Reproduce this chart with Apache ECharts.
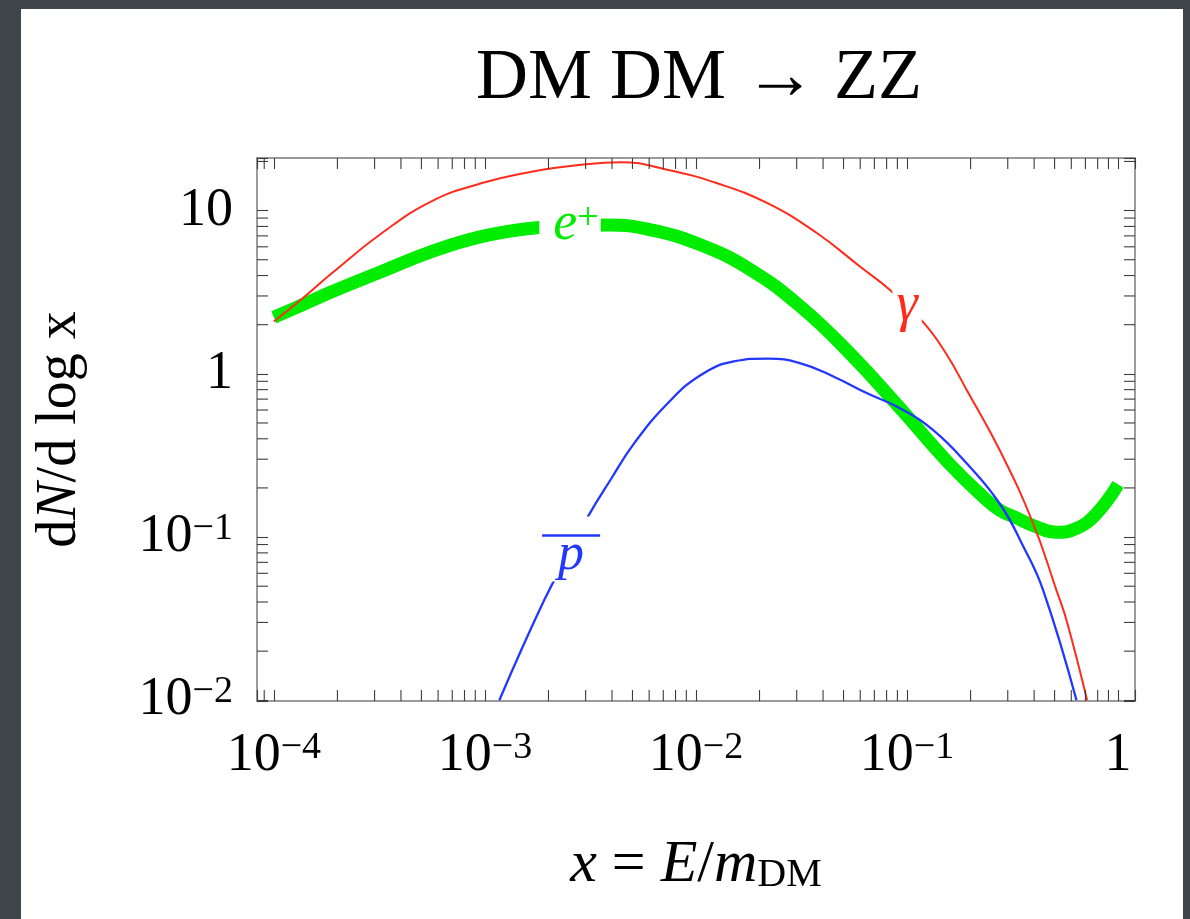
<!DOCTYPE html>
<html>
<head>
<meta charset="utf-8">
<script src="https://cdn.jsdelivr.net/npm/echarts@6/dist/echarts.min.js"></script>
<style>
  html, body { margin: 0; padding: 0; width: 1190px; height: 919px; overflow: hidden; background: #3f464a; }
  #panel { position: absolute; left: 21px; top: 9px; width: 1162px; height: 910px; background: #ffffff; }
  #chart { position: absolute; left: 0; top: 0; width: 1190px; height: 919px; }
</style>
</head>
<body>
<div id="panel"></div>
<div id="chart"></div>
<script>
// Energy spectra dN/d log x of the final states of DM DM -> ZZ, x = E / m_DM.

// photons (gamma)
const gammaX = [1.0e-4, 1.36e-4, 1.88e-4, 3.24e-4, 5.58e-4, 9.6e-4, 1.66e-3, 2.86e-3, 4.4e-3, 7.3e-3,
                1.26e-2, 2.18e-2, 3.75e-2, 6.0e-2, 8.3e-2, 0.120, 0.152, 0.192, 0.275,
                0.396, 0.511, 0.570, 0.713];
const gammaY = [2.09, 2.88, 4.13, 7.26, 11.4, 14.7, 17.3, 19.1, 19.8, 17.8,
                14.7, 11.1, 7.26, 4.53, 3.26, 2.05, 1.35, 0.794, 0.340,
                0.121, 0.047, 0.0308, 0.0100];

// positrons (e+)
const positronX = [1.0e-4, 1.36e-4, 1.88e-4, 3.24e-4, 5.58e-4, 9.6e-4, 1.66e-3, 2.56e-3, 3.83e-3, 6.11e-3,
                   1.05e-2, 1.82e-2, 3.13e-2, 5.37e-2, 9.29e-2, 0.160, 0.230, 0.275, 0.330, 0.394,
                   0.511, 0.635, 0.789, 1.0];
const positronY = [2.22, 2.64, 3.18, 4.23, 5.6, 6.92, 7.8, 8.06, 8.17, 7.62,
                   6.17, 4.33, 2.58, 1.33, 0.614, 0.278, 0.176, 0.146, 0.131, 0.118,
                   0.107, 0.113, 0.139, 0.21];

// antiprotons (p-bar)
const antiprotonX = [1.17e-3, 1.91e-3, 2.56e-3, 3.07e-3, 3.95e-3, 5.10e-3, 7.33e-3, 1.05e-2, 1.51e-2, 2.18e-2,
                     3.13e-2, 4.50e-2, 6.47e-2, 9.29e-2, 0.133, 0.192, 0.275, 0.356, 0.442, 0.635];
const antiprotonY = [0.0100, 0.0411, 0.0844, 0.133, 0.226, 0.376, 0.658, 0.98, 1.19, 1.24,
                     1.16, 0.96, 0.76, 0.614, 0.452, 0.282, 0.160, 0.0873, 0.047, 0.0100];

// axis decorations
const xTickLabels = ['10{s|\u22124}', '10{s|\u22123}', '10{s|\u22122}', '10{s|\u22121}', '1']; // 1e-4 .. 1
const yTickLabels = ['10{s|\u22122}', '10{s|\u22121}', '1', '10'];                           // 1e-2 .. 10
const xMinorTicks = [9e-5,
  2e-4, 3e-4, 4e-4, 5e-4, 6e-4, 7e-4, 8e-4, 9e-4,
  2e-3, 3e-3, 4e-3, 5e-3, 6e-3, 7e-3, 8e-3, 9e-3,
  2e-2, 3e-2, 4e-2, 5e-2, 6e-2, 7e-2, 8e-2, 9e-2,
  0.2, 0.3, 0.4, 0.5, 0.6, 0.7, 0.8, 0.9];
const yMinorTicks = [
  0.02, 0.03, 0.04, 0.05, 0.06, 0.07, 0.08, 0.09,
  0.2, 0.3, 0.4, 0.5, 0.6, 0.7, 0.8, 0.9,
  2, 3, 4, 5, 6, 7, 8, 9,
  20];

// where each curve carries its name (data coordinates on the curve)
const curveLabelAt = {
  positron: [2.53e-3, 8.05],
  gamma: [0.1, 2.6],
  antiproton: [2.56e-3, 0.0844]
};

const X_MIN = Math.pow(10, -4.08), X_MAX = Math.pow(10, 0.08);
const Y_MIN = 0.0099, Y_MAX = 21;

const SERIF = '"Liberation Serif", "DejaVu Serif", serif';
const RED = '#ff2b1c', GREEN = '#00ec00', BLUE = '#2238ff';
const FRAME = '#7a7a7a', TICK = '#3c3c3c', TICK_LEN = 11;
const SMOOTH = 0.45;

const pairs = (xs, ys) => xs.map((x, i) => [x, ys[i]]);

function exponentOf(v) {
  const l = Math.log10(v);
  const e = Math.round(l);
  return Math.abs(l - e) < 1e-6 ? e : null;
}
function fmtX(v) {
  const e = exponentOf(v);
  return (e === null || e < -4 || e > 0) ? '' : xTickLabels[e + 4];
}
function fmtY(v) {
  const e = exponentOf(v);
  return (e === null || e < -2 || e > 1) ? '' : yTickLabels[e + 2];
}

const tickRich = {
  b: { fontFamily: SERIF, fontSize: 54, lineHeight: 54, verticalAlign: 'bottom', color: '#000' },
  s: { fontFamily: SERIF, fontSize: 38, lineHeight: 38, verticalAlign: 'top', padding: [0, 0, 27, 0], color: '#000' }
};

const frameLine = { show: true, lineStyle: { color: FRAME, width: 1.5 } };
const majorTick = { show: true, inside: true, length: TICK_LEN, lineStyle: { color: TICK, width: 1.1 } };

// minor log ticks drawn on all four sides of the frame
function minorTickSeries(values, onX) {
  return {
    type: 'custom',
    silent: true,
    z: 4,
    clip: false,
    data: values.map(v => onX ? [v, Y_MIN] : [X_MIN, v]),
    renderItem(params, api) {
      const style = { stroke: TICK, lineWidth: 1.1 };
      if (onX) {
        const v = api.value(0);
        const b = api.coord([v, Y_MIN]);
        const t = api.coord([v, Y_MAX]);
        return { type: 'group', children: [
          { type: 'line', shape: { x1: b[0], y1: b[1], x2: b[0], y2: b[1] - TICK_LEN }, style },
          { type: 'line', shape: { x1: t[0], y1: t[1], x2: t[0], y2: t[1] + TICK_LEN }, style }
        ] };
      }
      const v = api.value(1);
      const l = api.coord([X_MIN, v]);
      const r = api.coord([X_MAX, v]);
      return { type: 'group', children: [
        { type: 'line', shape: { x1: l[0], y1: l[1], x2: l[0] + TICK_LEN, y2: l[1] }, style },
        { type: 'line', shape: { x1: r[0], y1: r[1], x2: r[0] - TICK_LEN, y2: r[1] }, style }
      ] };
    }
  };
}

function curveLabel(coord, label) {
  return {
    symbol: 'circle',
    symbolSize: 0,
    silent: true,
    z: 6,
    data: [{ coord }],
    label: Object.assign({ show: true, position: 'inside', backgroundColor: '#ffffff' }, label)
  };
}

const chart = echarts.init(document.getElementById('chart'), null, { renderer: 'canvas' });

chart.setOption({
  animation: false,
  backgroundColor: 'transparent',
  title: {
    text: 'DM DM \u2192 ZZ',
    left: 694,
    top: 38,
    textAlign: 'center',
    textStyle: { fontFamily: SERIF, fontSize: 72, fontWeight: 'normal', color: '#000', lineHeight: 72 }
  },
  grid: { left: 257, top: 158, right: 55, bottom: 218 },
  xAxis: [
    {
      type: 'log', min: X_MIN, max: X_MAX, position: 'bottom',
      axisLine: frameLine, axisTick: majorTick, splitLine: { show: false },
      axisLabel: { formatter: fmtX, rich: tickRich, margin: 55, verticalAlign: 'middle',
                   fontFamily: SERIF, fontSize: 54, color: '#000' },
      name: '{i|x}{r| = }{i|E}{r|/}{i|m}{sub|DM}',
      nameLocation: 'middle',
      nameGap: 134,
      nameTextStyle: {
        fontFamily: SERIF, fontSize: 60, color: '#000',
        rich: {
          i: { fontFamily: SERIF, fontSize: 60, lineHeight: 60, fontStyle: 'italic', verticalAlign: 'top', color: '#000' },
          r: { fontFamily: SERIF, fontSize: 60, lineHeight: 60, verticalAlign: 'top', color: '#000' },
          sub: { fontFamily: SERIF, fontSize: 40, lineHeight: 40, verticalAlign: 'bottom', padding: [27, 0, 0, 0], color: '#000' }
        }
      }
    },
    {
      type: 'log', min: X_MIN, max: X_MAX, position: 'top',
      axisLine: frameLine, axisTick: majorTick, splitLine: { show: false },
      axisLabel: { show: false }
    }
  ],
  yAxis: [
    {
      type: 'log', min: Y_MIN, max: Y_MAX, position: 'left',
      axisLine: frameLine, axisTick: majorTick, splitLine: { show: false },
      axisLabel: { formatter: fmtY, rich: tickRich, margin: 24, fontFamily: SERIF, fontSize: 54, color: '#000' },
      name: '{r|d}{i|N}{r|/d log x}',
      nameLocation: 'middle',
      nameGap: 169,
      nameRotate: 90,
      nameTextStyle: {
        fontFamily: SERIF, fontSize: 56, color: '#000',
        rich: {
          r: { fontFamily: SERIF, fontSize: 56, lineHeight: 56, color: '#000' },
          i: { fontFamily: SERIF, fontSize: 56, lineHeight: 56, fontStyle: 'italic', color: '#000' }
        }
      }
    },
    {
      type: 'log', min: Y_MIN, max: Y_MAX, position: 'right',
      axisLine: frameLine, axisTick: majorTick, splitLine: { show: false },
      axisLabel: { show: false }
    }
  ],
  series: [
    {
      name: 'e+', type: 'line', xAxisIndex: 0, yAxisIndex: 0,
      data: pairs(positronX, positronY),
      showSymbol: false, smooth: SMOOTH, emphasis: { disabled: true },
      lineStyle: { color: GREEN, width: 13, cap: 'butt', join: 'round' },
      markPoint: curveLabel(curveLabelAt.positron, {
        formatter: '{e|e}{s|+}',
        padding: [0, 2, 0, 14],
        rich: {
          e: { fontFamily: SERIF, fontSize: 54, lineHeight: 52, fontStyle: 'italic', color: GREEN, verticalAlign: 'bottom' },
          s: { fontFamily: SERIF, fontSize: 38, lineHeight: 36, color: GREEN, verticalAlign: 'top', padding: [0, 0, 20, 0] }
        }
      })
    },
    {
      name: 'gamma', type: 'line', xAxisIndex: 0, yAxisIndex: 0,
      data: pairs(gammaX, gammaY),
      showSymbol: false, smooth: SMOOTH, emphasis: { disabled: true },
      lineStyle: { color: RED, width: 2 },
      markPoint: curveLabel(curveLabelAt.gamma, {
        formatter: '{g|\u03b3}',
        padding: [0, 4, 0, 4],
        rich: {
          g: { fontFamily: SERIF, fontSize: 54, lineHeight: 32, fontStyle: 'italic', color: RED }
        }
      })
    },
    {
      name: 'antiproton', type: 'line', xAxisIndex: 0, yAxisIndex: 0,
      data: pairs(antiprotonX, antiprotonY),
      showSymbol: false, smooth: SMOOTH, emphasis: { disabled: true },
      lineStyle: { color: BLUE, width: 2.3 },
      markPoint: curveLabel(curveLabelAt.antiproton, {
        formatter: '{bar| }\n{p|p}',
        padding: [14, 1, 11, 1],
        rich: {
          bar: { width: 58, height: 2.5, lineHeight: 10, fontSize: 2, backgroundColor: BLUE },
          p: { fontFamily: SERIF, fontSize: 52, lineHeight: 30, fontStyle: 'italic', color: BLUE }
        }
      })
    },
    minorTickSeries(xMinorTicks, true),
    minorTickSeries(yMinorTicks, false)
  ]
});
</script>
</body>
</html>
